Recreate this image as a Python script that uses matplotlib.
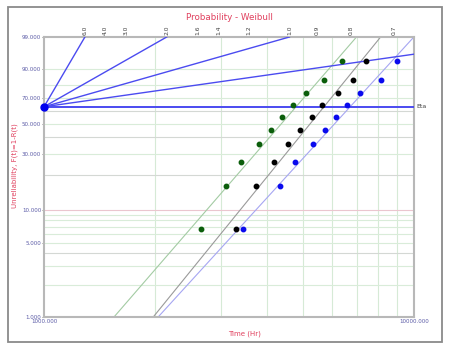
import numpy as np
import matplotlib
matplotlib.use('Agg')
import matplotlib.pyplot as plt
import matplotlib.transforms as mtransforms
from matplotlib.patches import Rectangle

# median ranks (%) of the 10 failures, shared by the three data sets
unrel = [6.73, 16.35, 25.96, 35.58, 45.19, 54.81, 64.42, 74.04, 83.65, 93.27]

green_times = [2650, 3100, 3400, 3800, 4100, 4400, 4710, 5100, 5700, 6400]
black_times = [3300, 3730, 4190, 4560, 4930, 5290, 5640, 6250, 6840, 7400]
blue_times = [3450, 4350, 4770, 5330, 5760, 6170, 6590, 7150, 8120, 8980]

# fitted Weibull parameters (green, black, blue)
fit_beta = [4.06, 4.33, 3.85]
fit_eta = [4800, 5710, 6720]

# beta scale at the top and the beta lines drawn from the pivot
scale_betas = [6.0, 4.0, 3.0, 2.0, 1.6, 1.4, 1.2, 1.0, 0.9, 0.8, 0.7]
drawn_betas = [6.0, 2.0, 1.0, 0.5]
pivot_time = 1000
eta_level = 63.212

ytick_vals = [1, 5, 10, 30, 50, 70, 90, 99]
xtick_vals = [1000, 10000]


def fwd(p):
    p = np.asarray(p, dtype=float)
    with np.errstate(all='ignore'):
        return np.log(-np.log(1 - p / 100.0))


def inv(y):
    y = np.asarray(y, dtype=float)
    with np.errstate(all='ignore'):
        return 100.0 * (1 - np.exp(-np.exp(y)))


def weib_cdf(t, beta, eta):
    t = np.asarray(t, dtype=float)
    return 100.0 * (1 - np.exp(-(t / eta) ** beta))


fig = plt.figure(figsize=(4.5, 3.51), dpi=100)
ax = fig.add_axes([44 / 450, 1 - 317 / 351, 370 / 450, 280 / 351])
ax.set_xscale('log')
ax.set_xlim(1000, 10000)
ax.set_ylim(1, 99)
ax.set_yscale('function', functions=(fwd, inv))
ax.set_ylim(1, 99)
ax.autoscale(False)

# grid
for t in range(2000, 10000, 1000):
    ax.axvline(t, color='#d6ead6', lw=0.8, zorder=0)
for f in [2, 3, 5, 6, 7, 8, 9, 30, 50, 70, 80, 90]:
    ax.axhline(f, color='#d9ecd9', lw=0.8, zorder=0)
for f in [4, 20, 40, 60]:
    ax.axhline(f, color='#d4d8d4', lw=0.8, zorder=0)
ax.axhline(10, color='#ebc6cf', lw=0.8, zorder=0)

# fitted lines
top = fwd(99)
bot = fwd(1)
for beta, eta, col in zip(fit_beta, fit_eta, ['#a3cba3', '#9a9a9a', '#a6a6f2']):
    tt = eta * np.exp(np.array([bot, top]) / beta)
    ax.plot(tt, weib_cdf(tt, beta, eta), color=col, lw=0.8, zorder=2)

# beta lines from the pivot
for beta in drawn_betas:
    t_end = min(10000, pivot_time * np.exp(top / beta))
    tt = np.array([pivot_time, t_end])
    ax.plot(tt, np.minimum(weib_cdf(tt, beta, pivot_time), 99), color='#4b4bf0', lw=1.0, zorder=3)
ax.axhline(eta_level, color='#4b4bf0', lw=1.4, zorder=3)
ax.plot([pivot_time], [eta_level], 'o', color='#0000ee', ms=5, clip_on=False, zorder=5)

# data points
ax.plot(green_times, unrel, 'o', color='#0b5e0b', ms=3.2, zorder=4)
ax.plot(black_times, unrel, 'o', color='#000000', ms=3.2, zorder=4)
ax.plot(blue_times, unrel, 'o', color='#0a0aee', ms=3.2, zorder=4)

# beta scale labels
btrans = mtransforms.blended_transform_factory(ax.transData, ax.transAxes)
for beta in scale_betas:
    tb = pivot_time * np.exp(top / beta)
    ax.text(tb, 1.006, f'{beta:.1f}', transform=btrans, rotation=90, ha='center',
            va='bottom', fontsize=4.3, color='#404040')
etrans = mtransforms.blended_transform_factory(ax.transAxes, ax.transData)
ax.text(1.006, eta_level, 'Eta', transform=etrans, ha='left', va='center',
        fontsize=4.5, color='#404040')

# axes styling
for s in ax.spines.values():
    s.set_color('#b8b8b8')
    s.set_linewidth(1.5)
ax.yaxis.set_minor_locator(matplotlib.ticker.NullLocator())
ax.xaxis.set_minor_locator(matplotlib.ticker.NullLocator())
ax.set_yticks(ytick_vals)
ax.set_yticklabels([f'{v:.3f}' for v in ytick_vals])
ax.set_xticks(xtick_vals)
ax.set_xticklabels([f'{v:.3f}' for v in xtick_vals])
ax.tick_params(axis='y', length=1.5, width=0.6, color='#707070', pad=0.5,
               labelsize=4, labelcolor='#5a5aa6')
ax.tick_params(axis='x', length=0, pad=1.5, labelsize=4, labelcolor='#5a5aa6')

fig.text(229 / 450, 1 - 17.5 / 351, 'Probability - Weibull', ha='center', va='center',
         fontsize=6.3, color='#e0405e')
fig.text(244 / 450, 1 - 333.5 / 351, 'Time (Hr)', ha='center', va='center',
         fontsize=5, color='#e0405e')
fig.text(15 / 450, 1 - 166 / 351, 'Unreliability, F(t)=1-R(t)', ha='center', va='center',
         rotation=90, fontsize=5, color='#e0405e')

fig.add_artist(Rectangle((8 / 450, 1 - 342 / 351), 434 / 450, 335 / 351, fill=False,
                         edgecolor='#8a8a8a', lw=1.3, transform=fig.transFigure))

fig.savefig('out.png', dpi=100)
